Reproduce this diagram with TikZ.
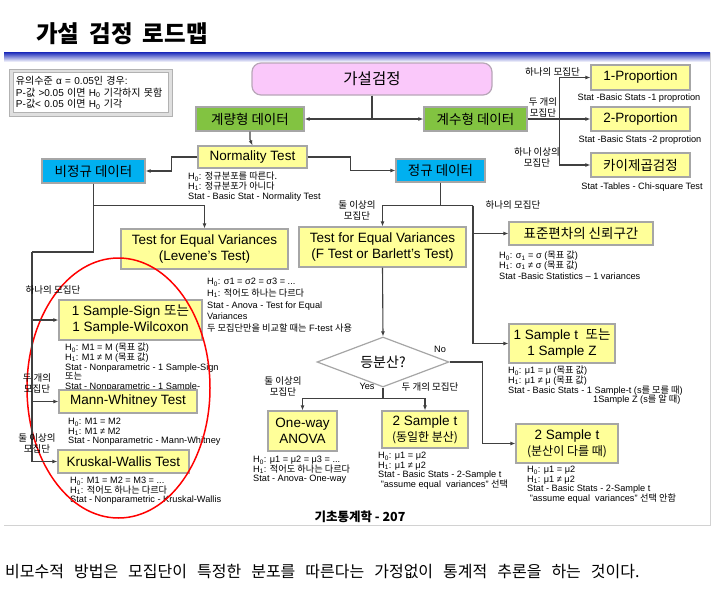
\documentclass[tikz,border=0pt]{standalone}
\usepackage{fontspec}
\setmainfont{Liberation Sans}
\newfontfamily\kr{Noto Sans CJK KR}
\usetikzlibrary{arrows.meta,calc,positioning,shapes.geometric}
\definecolor{boxyellow}{HTML}{FFFF99}
\definecolor{boxgreen}{HTML}{82C341}
\definecolor{boxblue}{HTML}{00B0F0}
\definecolor{boxpink}{HTML}{FAC8FA}
\definecolor{pinkline}{HTML}{B8A6B8}
\definecolor{linegray}{HTML}{A6A6A6}
\definecolor{flowline}{HTML}{404040}
\definecolor{barblue}{HTML}{2E3CC0}
\newcommand{\ko}[1]{{\kr #1}}
\newcommand{\widesp}[1]{\spaceskip=#1\relax}
\tikzset{
  flow/.style={-{Latex[length=5pt,width=4pt]},line width=1.1pt,flowline},
  plain/.style={line width=1.1pt,flowline},
  ybox/.style={draw=linegray,line width=1.2pt,fill=boxyellow,inner sep=0pt,align=center,font=\fontsize{13.5}{16}\selectfont},
  gbox/.style={ybox,fill=boxgreen},
  bbox/.style={ybox,fill=boxblue},
  note/.style={anchor=north west,inner sep=0pt,align=left,font=\fontsize{9.2}{9.6}\selectfont},
  caption/.style={inner sep=0pt,font=\fontsize{9.2}{10}\selectfont},
  elabel/.style={inner sep=0pt,align=center,font=\kr\fontsize{9.5}{11}\selectfont}
}

\begin{document}
\begin{tikzpicture}[x=1pt,y=-1pt]
  \useasboundingbox (0,0) rectangle (722,594);
  \shade[top color=barblue,bottom color=white] (4,53) rectangle (710,62);
  \draw[gray!35,line width=1pt] (710,53) -- (710,525) -- (4,525);
  \node[font=\kr\bfseries\fontsize{23.5}{26}\selectfont] (title) at (122,34) {\widesp{10pt}가설 검정 로드맵};
  \node[draw=gray!60,line width=1pt,double=gray!25,double distance=2.5pt,fill=white,minimum width=159pt,minimum height=43.5pt,text width=150pt,align=left,inner sep=0pt,font=\fontsize{10}{11.5}\selectfont] (info) at (91,92.75)
    {\ko{유의수준} α = 0.05\ko{인 경우}:\\P-\ko{값} >0.05 \ko{이면} H\textsubscript{0} \ko{기각하지 못함}\\P-\ko{값}< 0.05 \ko{이면} H\textsubscript{0} \ko{기각}};

  \node[draw=pinkline,line width=1.2pt,fill=boxpink,rounded corners=9pt,minimum width=240pt,minimum height=32pt,font=\kr\fontsize{15.5}{18}\selectfont] (hyp) at (372,79) {가설검정};
  \node[gbox,minimum width=108pt,minimum height=24pt] (cont) at (250,119) {\ko{계량형 데이터}};
  \node[gbox,minimum width=103pt,minimum height=24pt] (disc) at (475.5,119) {\ko{계수형 데이터}};
  \node[ybox,minimum width=99pt,minimum height=25pt] (prop1) at (640.5,77.5) {1-Proportion};
  \node[ybox,minimum width=99pt,minimum height=24pt] (prop2) at (640.5,119) {2-Proportion};
  \node[ybox,minimum width=99pt,minimum height=24pt] (chi) at (640.5,165) {\ko{카이제곱검정}};
  \node[caption] (prop1cap) at (639,98) {Stat -Basic Stats -1 proprotion};
  \node[caption] (prop2cap) at (640,140) {Stat -Basic Stats -2 proprotion};
  \node[caption] (chicap) at (642,187) {Stat -Tables - Chi-square Test};

  \node[ybox,minimum width=109pt,minimum height=22pt] (norm) at (252.5,157) {Normality Test};
  \node[note] (normnote) at (188,172) {H\textsubscript{0}: \ko{정규분포를 따른다.}\\H\textsubscript{1}: \ko{정규분포가 아니다}\\Stat - Basic Stat - Normality Test};
  \node[bbox,minimum width=103pt,minimum height=24pt] (nonnorm) at (93.5,171) {\ko{비정규 데이터}};
  \node[bbox,minimum width=89pt,minimum height=23pt] (normal) at (440.5,170.5) {\ko{정규 데이터}};

  \node[ybox,minimum width=167pt,minimum height=40pt] (levene) at (204.5,249) {Test for Equal Variances\\(Levene’s Test)};
  \node[note,font=\fontsize{9.2}{11.7}\selectfont] (levnote) at (207,278) {H\textsubscript{0}: σ1 = σ2 = σ3 = ...\\H\textsubscript{1}: \ko{적어도 하나는 다르다}\\Stat - Anova - Test for Equal\\Variances\\\ko{두 모집단만을 비교할 때는} F-test \ko{사용}};
  \node[ybox,minimum width=167pt,minimum height=40pt] (ftest) at (382.5,247) {Test for Equal Variances\\(F Test or Barlett’s Test)};
  \node[ybox,minimum width=144pt,minimum height=23pt] (sdci) at (581,233.5) {\ko{표준편차의 신뢰구간}};
  \node[note] (sdnote) at (499,251) {H\textsubscript{0}: σ\textsubscript{1} = σ (\ko{목표 값})\\H\textsubscript{1}: σ\textsubscript{1} ≠ σ (\ko{목표 값})\\[1pt]Stat -Basic Statistics – 1 variances};

  \node[ybox,minimum width=143pt,minimum height=40pt] (sign) at (130.5,320) {1 Sample-Sign \ko{또는}\\1 Sample-Wilcoxon};
  \node[note] (signnote) at (65,343) {H\textsubscript{0}: M1 = M (\ko{목표 값})\\H\textsubscript{1}: M1 ≠ M (\ko{목표 값})\\Stat - Nonparametric - 1 Sample-Sign\\\ko{또는}\\Stat - Nonparametric - 1 Sample-};
  \node[ybox,minimum width=138pt,minimum height=23pt] (mann) at (128,401.5) {Mann-Whitney Test};
  \node[note] (mannnote) at (68,418) {H\textsubscript{0}: M1 = M2\\H\textsubscript{1}: M1 ≠ M2\\Stat - Nonparametric - Mann-Whitney};
  \node[ybox,minimum width=131pt,minimum height=23pt] (krus) at (123.5,461.5) {Kruskal-Wallis Test};
  \node[note] (krusnote) at (70,477) {H\textsubscript{0}: M1 = M2 = M3 = ...\\H\textsubscript{1}: \ko{적어도 하나는 다르다}\\Stat - Nonparametric - Kruskal-Wallis};

  \node[ybox,minimum width=106pt,minimum height=39pt] (onet) at (562,343.5) {1 Sample t\ \ \ko{또는}\\1 Sample Z};
  \node[note] (onetnote) at (508,366) {H\textsubscript{0}: μ1 = μ (\ko{목표 값})\\H\textsubscript{1}: μ1 ≠ μ (\ko{목표 값})\\Stat - Basic Stats - 1 Sample-t (s\ko{를 모를 때})\\\hspace*{85pt}1Sample Z (s\ko{를 알 때})};
  \node[draw=linegray,line width=1.2pt,fill=white,diamond,aspect=2.6,minimum width=132pt,minimum height=50pt,inner sep=0pt,font=\kr\fontsize{14}{16}\selectfont] (eqvar) at (383,362) {등분산?};

  \node[ybox,minimum width=69pt,minimum height=40pt] (anova) at (302.5,431) {One-way\\ANOVA};
  \node[note] (anovanote) at (253,456) {H\textsubscript{0}: μ1 = μ2 = μ3 = ...\\H\textsubscript{1}: \ko{적어도 하나는 다르다}\\Stat - Anova- One-way};
  \node[ybox,minimum width=86pt,minimum height=37pt] (twosame) at (425,429.5) {2 Sample t\\{\kr\fontsize{12}{14}\selectfont(동일한 분산)}};
  \node[note] (samenote) at (378,452) {H\textsubscript{0}: μ1 = μ2\\H\textsubscript{1}: μ1 ≠ μ2\\Stat - Basic Stats - 2-Sample t\\\ "assume equal\ \ variances" \ko{선택}};
  \node[ybox,minimum width=102pt,minimum height=39pt] (twodiff) at (567,443.5) {2 Sample t\\{\kr\fontsize{12}{14}\selectfont(분산이 다를 때)}};
  \node[note] (diffnote) at (527,466) {H\textsubscript{0}: μ1 = μ2\\H\textsubscript{1}: μ1 ≠ μ2\\Stat - Basic Stats - 2-Sample t\\\ "assume equal\ \ variances" \ko{선택 안함}};

  \draw[red,line width=1.5pt] (118.5,388) ellipse [x radius=91.5pt, y radius=130pt];

  \draw[flow] (hyp.south) |- (cont.east);
  \draw[flow] (hyp.south) |- (disc.west);
  \draw[flow] (cont.south) -- ++(0,8) -- (norm.north);
  \coordinate (dj) at ($(disc.east)+(32,0)$);
  \draw[flow] (disc.east) -- (prop2.west);
  \draw[flow] (dj) |- (prop1.west);
  \draw[flow] (dj) |- (chi.west);
  \draw[flow] (norm.west) -- ++(-26,0) |- (nonnorm.east);
  \draw[flow] (norm.east) -- ++(43,0) |- (normal.west);

  \draw[flow] (nonnorm.south) -- ++(0,22) -| (levene.north);
  \coordinate (np) at (32,252);
  \draw[plain] (nonnorm.south) |- (np);
  \draw[flow] (np) |- (sign.west);
  \draw[flow] (np) |- (mann.west);
  \draw[flow] (np) |- (krus.west);

  \draw[flow] (normal.south) -- ++(0,23) -| (ftest.north);
  \draw[plain] (normal.south) -- ++(0,23) -- ++(32.5,0) coordinate (pj);
  \draw[flow] (pj) |- (sdci.west);
  \draw[flow] (pj) |- (onet.west);
  \draw[flow] (ftest.south) -- (eqvar.north);
  \draw[flow] (eqvar.east) -- ++(33,0) |- (twodiff.west);
  \draw[plain] (eqvar.south) -- ++(0,11) coordinate (yj);
  \draw[flow] (yj) -| (anova.north);
  \draw[flow] (yj) -| (twosame.north);

  \node[elabel,anchor=east] (l1) at (580,72) {하나의 모집단};
  \node[elabel] (l2) at (543,107) {두 개의\\모집단};
  \node[elabel] (l3) at (537,157) {하나 이상의\\모집단};
  \node[elabel] (l4) at (357,210) {둘 이상의\\모집단};
  \node[elabel] (l5) at (513,205) {하나의 모집단};
  \node[elabel] (l6) at (53,290) {하나의 모집단};
  \node[elabel] (l7) at (37,383) {두 개의\\모집단};
  \node[elabel] (l8) at (37,443) {둘 이상의\\모집단};
  \node[elabel] (l9) at (283,386) {둘 이상의\\모집단};
  \node[elabel] (l10) at (430,387) {두 개의 모집단};
  \node[caption] (yes) at (367,386) {Yes};
  \node[caption] (no) at (440,349) {No};

  \node[font=\kr\bfseries\fontsize{12.5}{14}\selectfont] (page) at (360,517) {기초통계학 - 207};
  \node[anchor=west,inner sep=0pt,font=\kr\fontsize{16}{18}\selectfont] (summary) at (5,571) {\widesp{10pt}비모수적 방법은 모집단이 특정한 분포를 따른다는 가정없이 통계적 추론을 하는 것이다.};
\end{tikzpicture}
\end{document}
